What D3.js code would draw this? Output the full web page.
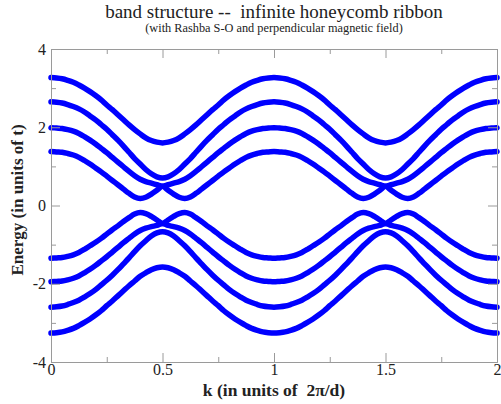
<!DOCTYPE html>
<html>
<head>
<meta charset="utf-8">
<script src="https://cdn.jsdelivr.net/npm/d3@7"></script>
<style>
  html, body { margin: 0; padding: 0; background: #fff; }
  svg { display: block; }
  text { font-family: "Liberation Serif", "Times New Roman", serif; }
</style>
</head>
<body>
<svg id="chart" width="501" height="404"></svg>
<script>
// ---- data ----
const titleText = "band structure --  infinite honeycomb ribbon";
const subtitleText = "(with Rashba S-O and perpendicular magnetic field)";
const xLabel = "k (in units of  2\u03c0/d)";
const yLabel = "Energy (in units of t)";

const xMajorTicks = [0, 0.5, 1, 1.5, 2];
const xMinorTicks = [0.25, 0.75, 1.25, 1.75];
const xTickLabels = ["0", "0.5", "1", "1.5", "2"];
const yMajorTicks = [-4, -2, 0, 2, 4];
const yMinorTicks = [-3, -1, 1, 3];
const yTickLabels = ["-4", "-2", "0", "2", "4"];

const kValues = [0,0.025,0.05,0.075,0.1,0.125,0.15,0.175,0.2,0.225,0.25,0.275,0.3,0.325,0.35,0.375,0.4,0.425,0.45,0.475,0.5,
0.525,0.55,0.575,0.6,0.625,0.65,0.675,0.7,0.725,0.75,0.775,0.8,0.825,0.85,0.875,0.9,0.925,0.95,0.975,
1,1.025,1.05,1.075,1.1,1.125,1.15,1.175,1.2,1.225,1.25,1.275,1.3,1.325,1.35,1.375,1.4,1.425,1.45,1.475,1.5,
1.525,1.55,1.575,1.6,1.625,1.65,1.675,1.7,1.725,1.75,1.775,1.8,1.825,1.85,1.875,1.9,1.925,1.95,1.975,2];

const band1 = [3.27,3.26,3.24,3.20,3.15,3.08,3.00,2.91,2.81,2.70,2.57,2.45,2.32,2.19,2.06,1.94,1.83,1.73,1.66,1.62,1.60,
1.62,1.66,1.73,1.83,1.94,2.06,2.19,2.32,2.45,2.57,2.70,2.81,2.91,3.00,3.08,3.15,3.20,3.24,3.26,
3.27,3.26,3.24,3.20,3.15,3.08,3.00,2.91,2.81,2.70,2.57,2.45,2.32,2.19,2.06,1.94,1.83,1.73,1.66,1.62,1.60,
1.62,1.66,1.73,1.83,1.94,2.06,2.19,2.32,2.45,2.57,2.70,2.81,2.91,3.00,3.08,3.15,3.20,3.24,3.26,3.27];

const band2 = [2.65,2.64,2.62,2.58,2.53,2.47,2.39,2.29,2.19,2.07,1.95,1.81,1.67,1.52,1.36,1.20,1.06,0.92,0.81,0.73,0.70,
0.73,0.81,0.92,1.06,1.20,1.36,1.52,1.67,1.81,1.95,2.07,2.19,2.29,2.39,2.47,2.53,2.58,2.62,2.64,
2.65,2.64,2.62,2.58,2.53,2.47,2.39,2.29,2.19,2.07,1.95,1.81,1.67,1.52,1.36,1.20,1.06,0.92,0.81,0.73,0.70,
0.73,0.81,0.92,1.06,1.20,1.36,1.52,1.67,1.81,1.95,2.07,2.19,2.29,2.39,2.47,2.53,2.58,2.62,2.64,2.65];

const band3 = [1.99,1.98,1.97,1.94,1.90,1.84,1.76,1.67,1.57,1.46,1.35,1.23,1.11,0.99,0.87,0.76,0.67,0.61,0.57,0.53,0.49,
0.53,0.57,0.61,0.67,0.76,0.87,0.99,1.11,1.23,1.35,1.46,1.57,1.67,1.76,1.84,1.90,1.94,1.97,1.98,
1.99,1.98,1.97,1.94,1.90,1.84,1.76,1.67,1.57,1.46,1.35,1.23,1.11,0.99,0.87,0.76,0.67,0.61,0.57,0.53,0.49,
0.53,0.57,0.61,0.67,0.76,0.87,0.99,1.11,1.23,1.35,1.46,1.57,1.67,1.76,1.84,1.90,1.94,1.97,1.98,1.99];

const band4 = [1.38,1.37,1.36,1.33,1.29,1.23,1.15,1.06,0.96,0.86,0.75,0.64,0.53,0.42,0.31,0.22,0.18,0.21,0.29,0.39,0.49,
0.39,0.29,0.21,0.18,0.22,0.31,0.42,0.53,0.64,0.75,0.86,0.96,1.06,1.15,1.23,1.29,1.33,1.36,1.37,
1.38,1.37,1.36,1.33,1.29,1.23,1.15,1.06,0.96,0.86,0.75,0.64,0.53,0.42,0.31,0.22,0.18,0.21,0.29,0.39,0.49,
0.39,0.29,0.21,0.18,0.22,0.31,0.42,0.53,0.64,0.75,0.86,0.96,1.06,1.15,1.23,1.29,1.33,1.36,1.37,1.38];

const band5 = [-1.35,-1.34,-1.33,-1.30,-1.26,-1.20,-1.12,-1.03,-0.94,-0.84,-0.73,-0.62,-0.52,-0.41,-0.31,-0.22,-0.18,-0.21,-0.28,-0.37,-0.46,
-0.37,-0.28,-0.21,-0.18,-0.22,-0.31,-0.41,-0.52,-0.62,-0.73,-0.84,-0.94,-1.03,-1.12,-1.20,-1.26,-1.30,-1.33,-1.34,
-1.35,-1.34,-1.33,-1.30,-1.26,-1.20,-1.12,-1.03,-0.94,-0.84,-0.73,-0.62,-0.52,-0.41,-0.31,-0.22,-0.18,-0.21,-0.28,-0.37,-0.46,
-0.37,-0.28,-0.21,-0.18,-0.22,-0.31,-0.41,-0.52,-0.62,-0.73,-0.84,-0.94,-1.03,-1.12,-1.20,-1.26,-1.30,-1.33,-1.34,-1.35];

const band6 = [-1.95,-1.94,-1.93,-1.90,-1.86,-1.80,-1.72,-1.63,-1.53,-1.42,-1.31,-1.19,-1.07,-0.95,-0.84,-0.73,-0.64,-0.58,-0.54,-0.51,-0.46,
-0.51,-0.54,-0.58,-0.64,-0.73,-0.84,-0.95,-1.07,-1.19,-1.31,-1.42,-1.53,-1.63,-1.72,-1.80,-1.86,-1.90,-1.93,-1.94,
-1.95,-1.94,-1.93,-1.90,-1.86,-1.80,-1.72,-1.63,-1.53,-1.42,-1.31,-1.19,-1.07,-0.95,-0.84,-0.73,-0.64,-0.58,-0.54,-0.51,-0.46,
-0.51,-0.54,-0.58,-0.64,-0.73,-0.84,-0.95,-1.07,-1.19,-1.31,-1.42,-1.53,-1.63,-1.72,-1.80,-1.86,-1.90,-1.93,-1.94,-1.95];

const band7 = [-2.60,-2.59,-2.57,-2.53,-2.48,-2.42,-2.34,-2.25,-2.15,-2.03,-1.91,-1.78,-1.64,-1.49,-1.34,-1.18,-1.03,-0.90,-0.78,-0.70,-0.67,
-0.70,-0.78,-0.90,-1.03,-1.18,-1.34,-1.49,-1.64,-1.78,-1.91,-2.03,-2.15,-2.25,-2.34,-2.42,-2.48,-2.53,-2.57,-2.59,
-2.60,-2.59,-2.57,-2.53,-2.48,-2.42,-2.34,-2.25,-2.15,-2.03,-1.91,-1.78,-1.64,-1.49,-1.34,-1.18,-1.03,-0.90,-0.78,-0.70,-0.67,
-0.70,-0.78,-0.90,-1.03,-1.18,-1.34,-1.49,-1.64,-1.78,-1.91,-2.03,-2.15,-2.25,-2.34,-2.42,-2.48,-2.53,-2.57,-2.59,-2.60];

const band8 = [-3.26,-3.25,-3.23,-3.19,-3.14,-3.07,-2.99,-2.90,-2.80,-2.69,-2.56,-2.44,-2.31,-2.18,-2.05,-1.93,-1.81,-1.72,-1.64,-1.59,-1.57,
-1.59,-1.64,-1.72,-1.81,-1.93,-2.05,-2.18,-2.31,-2.44,-2.56,-2.69,-2.80,-2.90,-2.99,-3.07,-3.14,-3.19,-3.23,-3.25,
-3.26,-3.25,-3.23,-3.19,-3.14,-3.07,-2.99,-2.90,-2.80,-2.69,-2.56,-2.44,-2.31,-2.18,-2.05,-1.93,-1.81,-1.72,-1.64,-1.59,-1.57,
-1.59,-1.64,-1.72,-1.81,-1.93,-2.05,-2.18,-2.31,-2.44,-2.56,-2.69,-2.80,-2.90,-2.99,-3.07,-3.14,-3.19,-3.23,-3.25,-3.26];

const bands = [band1, band2, band3, band4, band5, band6, band7, band8];

(function () {
// ---- layout ----
const svg = d3.select("#chart");
const mLeft = 51, mRight = 497, mTop = 49, mBottom = 362;
const x = d3.scaleLinear().domain([0, 2]).range([mLeft, mRight]);
const y = d3.scaleLinear().domain([-4, 4]).range([mBottom, mTop]);
const frameColor = "#9a9a9a";
const textColor = "#222";

// ---- bands ----
const line = d3.line()
  .x((d, i) => x(kValues[i]))
  .y(d => y(d))
  .curve(d3.curveCatmullRom.alpha(0.5));

svg.append("g").selectAll("path").data(bands).join("path")
  .attr("d", d => line(d))
  .attr("fill", "none")
  .attr("stroke", "#0000ff")
  .attr("stroke-width", 5.5)
  .attr("stroke-linecap", "round")
  .attr("stroke-linejoin", "round");

// ---- axes ----
function styleAxis(g) {
  g.select(".domain").attr("stroke", frameColor).attr("stroke-width", 1);
  g.selectAll(".tick line").attr("stroke", frameColor).attr("stroke-width", 1);
  g.selectAll(".tick text").attr("fill", textColor)
    .style("font-family", '"Liberation Serif", serif').style("font-size", "16px");
}

svg.append("g").attr("transform", `translate(0,${mBottom})`)
  .call(d3.axisBottom(x).tickValues(xMajorTicks).tickSizeInner(-9).tickSizeOuter(0).tickPadding(2)
    .tickFormat((d, i) => xTickLabels[i]))
  .call(styleAxis);
svg.append("g").attr("transform", `translate(0,${mBottom})`)
  .call(d3.axisBottom(x).tickValues(xMinorTicks).tickSizeInner(-5).tickSizeOuter(0).tickFormat(""))
  .call(styleAxis);
svg.append("g").attr("transform", `translate(0,${mTop})`)
  .call(d3.axisTop(x).tickValues(xMajorTicks).tickSizeInner(-9).tickSizeOuter(0).tickFormat(""))
  .call(styleAxis);
svg.append("g").attr("transform", `translate(0,${mTop})`)
  .call(d3.axisTop(x).tickValues(xMinorTicks).tickSizeInner(-5).tickSizeOuter(0).tickFormat(""))
  .call(styleAxis);
svg.append("g").attr("transform", `translate(${mLeft},0)`)
  .call(d3.axisLeft(y).tickValues(yMajorTicks).tickSizeInner(-9).tickSizeOuter(0).tickPadding(5)
    .tickFormat((d, i) => yTickLabels[i]))
  .call(styleAxis);
svg.append("g").attr("transform", `translate(${mLeft},0)`)
  .call(d3.axisLeft(y).tickValues(yMinorTicks).tickSizeInner(-5).tickSizeOuter(0).tickFormat(""))
  .call(styleAxis);
svg.append("g").attr("transform", `translate(${mRight},0)`)
  .call(d3.axisRight(y).tickValues(yMajorTicks).tickSizeInner(-9).tickSizeOuter(0).tickFormat(""))
  .call(styleAxis);
svg.append("g").attr("transform", `translate(${mRight},0)`)
  .call(d3.axisRight(y).tickValues(yMinorTicks).tickSizeInner(-5).tickSizeOuter(0).tickFormat(""))
  .call(styleAxis);

// ---- texts ----
const cx = (mLeft + mRight) / 2;
svg.append("text").attr("x", cx).attr("y", 18).attr("text-anchor", "middle")
  .attr("fill", textColor).style("font-size", "19px").style("white-space", "pre")
  .text(titleText);
svg.append("text").attr("x", cx).attr("y", 32).attr("text-anchor", "middle")
  .attr("fill", textColor).style("font-size", "12.3px")
  .text(subtitleText);
svg.append("text").attr("x", cx).attr("y", 395.5).attr("text-anchor", "middle")
  .attr("fill", textColor).style("font-size", "17.5px").style("font-weight", "bold").style("white-space", "pre")
  .text(xLabel);
svg.append("text").attr("transform", `translate(23,200) rotate(-90)`)
  .attr("text-anchor", "middle")
  .attr("fill", textColor).style("font-size", "17px").style("font-weight", "bold")
  .text(yLabel);
})();
</script>
</body>
</html>
